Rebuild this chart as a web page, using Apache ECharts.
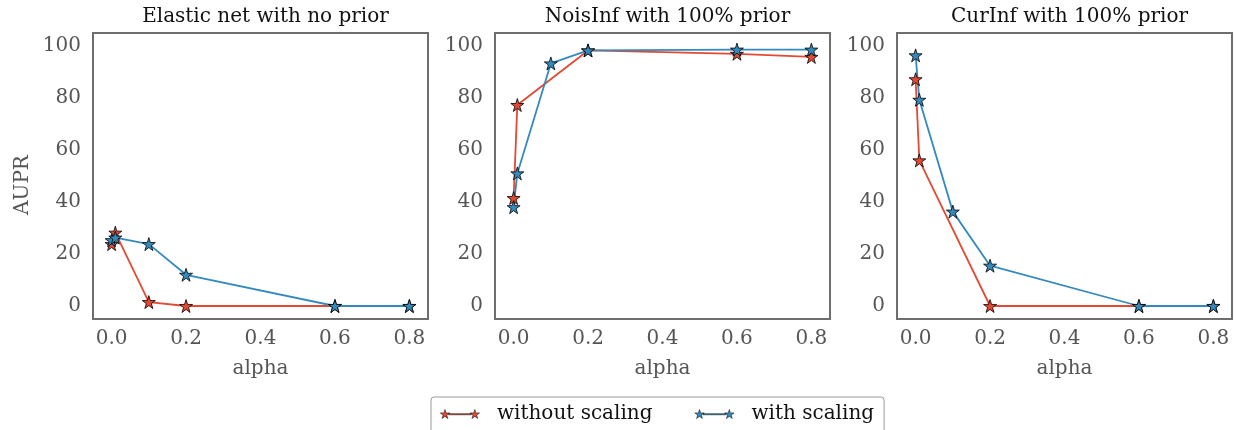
<!doctype html>
<html>
    <head>
        <meta charset="utf-8">
        <title>AUPR vs alpha</title>
        <style>
            html, body { margin: 0; padding: 0; background: #fff; }
            #main { width: 1236px; height: 430px; }
        </style>
    </head>
    <body>
        <div id="main"></div>
        <script src="https://cdn.jsdelivr.net/npm/echarts@6/dist/echarts.min.js"></script>
        <script>
            // alpha values shared by every panel
            var alphas = [0, 0.01, 0.1, 0.2, 0.6, 0.8];

            var panelTitles = ['Elastic net with no prior', 'NoisInf with 100% prior', 'CurInf with 100% prior'];

            // AUPR, without / with scaling (null = no point at that alpha)
            var elasticNoScale = [23.8, 28.2, 1.5, 0, 0, 0];
            var elasticScale = [25.3, 26.3, 23.8, 12, 0, 0];
            var noisNoScale = [41.5, 77.3, null, 98.3, 97, 95.8];
            var noisScale = [38, 51, 93.3, 98.3, 98.6, 98.6];
            var curNoScale = [87.2, 56, null, 0, 0, 0];
            var curScale = [96.4, 79.3, 36.3, 15.5, 0, 0];

            var xTicks = [0, 0.2, 0.4, 0.6, 0.8];
            var yTicks = [0, 20, 40, 60, 80, 100];

            var FONT = 'DejaVu Serif';
            var RED = '#E24A33';
            var BLUE = '#348ABD';
            var STAR = 'path://M100 0 L122.45 69.1 L195.11 69.1 L136.33 111.8 L158.78 180.9 L100 138.2 L41.22 180.9 L63.67 111.8 L4.89 69.1 L77.55 69.1 Z';
            // legend key: star - line - star
            var KEY = 'path://M50 0 L61.23 34.55 L97.55 34.55 L68.17 55.9 L79.39 90.45 L50 69.1 L20.61 90.45 L31.83 55.9 L2.45 34.55 L38.77 34.55 Z' +
                ' M350 0 L361.23 34.55 L397.55 34.55 L368.17 55.9 L379.39 90.45 L350 69.1 L320.61 90.45 L331.83 55.9 L302.45 34.55 L338.77 34.55 Z' +
                ' M86 42 L314 42 L314 53 L86 53 Z';

            var chart = echarts.init(document.getElementById('main'));

            var panelLefts = [93, 495, 897];
            var panelWidth = 335;

            function pairs(ys) {
                return alphas.map(function (a, i) {
                    return [a, ys[i]];
                });
            }

            function lineSeries(name, color, ys, idx) {
                return {
                    name: name,
                    type: 'line',
                    xAxisIndex: idx,
                    yAxisIndex: idx,
                    data: pairs(ys),
                    connectNulls: true,
                    symbol: STAR,
                    symbolSize: 13,
                    lineStyle: { color: color, width: 1.8 },
                    itemStyle: { color: color, borderColor: '#000', borderWidth: 0.8 },
                    emphasis: { disabled: true },
                    animation: false
                };
            }

            var grids = [], xAxes = [], yAxes = [], titles = [];
            panelLefts.forEach(function (left, i) {
                grids.push({
                    left: left, top: 33, width: panelWidth, height: 286,
                    show: true, borderColor: '#6e6e6e', borderWidth: 2,
                    backgroundColor: 'transparent'
                });
                titles.push({
                    text: panelTitles[i],
                    left: left + panelWidth / 2,
                    top: 2,
                    textAlign: 'center',
                    textStyle: { fontFamily: FONT, fontSize: 20, fontWeight: 'normal', color: '#111' }
                });
                xAxes.push({
                    gridIndex: i,
                    type: 'value',
                    min: -0.05,
                    max: 0.85,
                    name: 'alpha',
                    nameLocation: 'middle',
                    nameGap: 40,
                    nameTextStyle: { fontFamily: FONT, fontSize: 20, color: '#555' },
                    axisLine: { show: false },
                    axisTick: { show: false },
                    splitLine: { show: false },
                    axisLabel: {
                        customValues: xTicks,
                        formatter: function (v) { return v.toFixed(1); },
                        margin: 10,
                        fontFamily: FONT, fontSize: 20, color: '#555'
                    }
                });
                yAxes.push({
                    gridIndex: i,
                    type: 'value',
                    min: -5,
                    max: 105,
                    name: i === 0 ? 'AUPR' : '',
                    nameLocation: 'middle',
                    nameGap: 60,
                    nameTextStyle: { fontFamily: FONT, fontSize: 20, color: '#555', padding: [0, 18, 0, 0] },
                    axisLine: { show: false },
                    axisTick: { show: false },
                    splitLine: { show: false },
                    axisLabel: {
                        customValues: yTicks,
                        margin: 12,
                        fontFamily: FONT, fontSize: 20, color: '#555'
                    }
                });
            });

            var series = [
                lineSeries('without scaling', RED, elasticNoScale, 0),
                lineSeries('with scaling', BLUE, elasticScale, 0),
                lineSeries('without scaling', RED, noisNoScale, 1),
                lineSeries('with scaling', BLUE, noisScale, 1),
                lineSeries('without scaling', RED, curNoScale, 2),
                lineSeries('with scaling', BLUE, curScale, 2)
            ];

            chart.setOption({
                animation: false,
                title: titles,
                grid: grids,
                xAxis: xAxes,
                yAxis: yAxes,
                legend: {
                    data: [
                        { name: 'without scaling', icon: KEY, itemStyle: { color: RED, borderColor: '#000', borderWidth: 0.5 } },
                        { name: 'with scaling', icon: KEY, itemStyle: { color: BLUE, borderColor: '#000', borderWidth: 0.5 } }
                    ],
                    left: 431,
                    top: 397,
                    padding: [7, 10, 14, 9],
                    itemWidth: 40,
                    itemHeight: 9,
                    itemGap: 42,
                    borderColor: '#999',
                    borderWidth: 1,
                    borderRadius: 3,
                    selectedMode: false,
                    textStyle: { fontFamily: FONT, fontSize: 20, color: '#111', padding: [0, 0, 0, 12] }
                },
                series: series
            });

            window.addEventListener('resize', function () {
                chart.resize();
            });
        </script>
    </body>
</html>
